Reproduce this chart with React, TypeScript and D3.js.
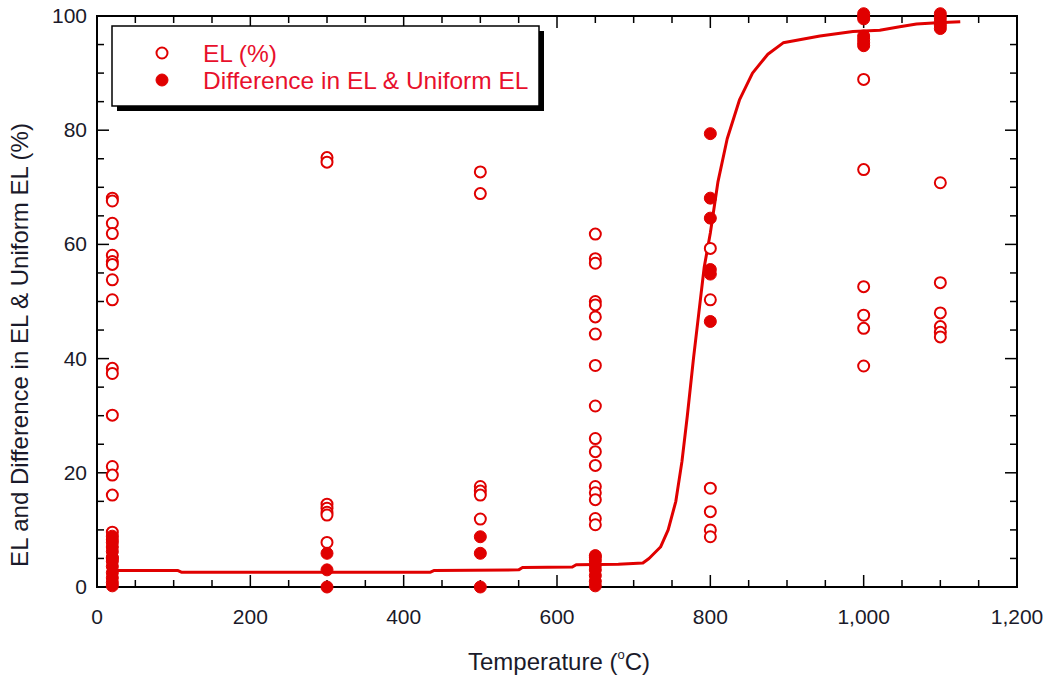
import React from "react";
import * as d3 from "d3";

// ---- Data ----
const temps = [20, 300, 500, 650, 800, 1000, 1100];

const elOpen: number[][] = [
  [68.1, 67.6, 63.7, 61.9, 58.1, 57.0, 56.5, 53.8, 50.3, 38.3, 37.4, 30.1, 21.1, 19.6, 16.1, 9.6, 8.3, 5.0],
  [75.2, 74.4, 14.5, 13.8, 13.1, 12.6, 7.8],
  [72.7, 68.9, 17.6, 16.8, 16.1, 11.9],
  [61.8, 57.5, 56.7, 50.0, 49.4, 47.3, 44.3, 38.8, 31.7, 26.0, 23.7, 21.3, 17.6, 16.5, 15.3, 12.0, 10.9, 5.2],
  [59.3, 50.3, 17.3, 13.2, 10.0, 8.8],
  [88.9, 73.1, 52.6, 47.6, 45.3, 38.7],
  [70.8, 53.3, 48.0, 45.6, 44.6, 43.8],
];

const diffFilled: number[][] = [
  [8.9, 7.8, 7.0, 6.2, 5.2, 4.5, 3.6, 2.5, 1.6, 0.8, 0.2],
  [5.9, 3.0, 0.0],
  [8.8, 5.9, 0.0],
  [5.5, 4.6, 3.8, 3.0, 2.0, 1.0, 0.2],
  [79.4, 68.1, 64.6, 55.6, 54.8, 46.5],
  [100.4, 99.9, 99.5, 96.5, 95.9, 95.3, 94.8],
  [100.4, 99.7, 99.0, 98.4, 97.8],
];

const fitT = [20, 105, 110, 435, 440, 550, 555, 620, 625, 680, 712, 720, 735, 745, 755, 763, 770, 778, 785, 792, 800, 810, 822, 838, 855, 875, 895, 943, 986, 1021, 1047, 1069, 1096, 1126];
const fitV = [2.9, 2.9, 2.6, 2.6, 2.9, 3.0, 3.4, 3.5, 3.9, 4.0, 4.2, 5.0, 7.0, 10.0, 15.0, 22.0, 30.0, 40.0, 48.0, 56.0, 62.0, 71.0, 78.5, 85.3, 90.0, 93.3, 95.3, 96.5, 97.3, 97.5, 98.1, 98.6, 98.8, 99.0];

const xTicks = [0, 200, 400, 600, 800, 1000, 1200];
const yTicks = [0, 20, 40, 60, 80, 100];
const legendLabels = ["EL (%)", "Difference in EL & Uniform EL"];

const W = 1052;
const H = 681;
const left = 97, right = 1017, top = 16, bottom = 587;
const RED = "#e00000";
const TEXTRED = "#e8102c";
const FONT = "Arial, 'Liberation Sans', sans-serif";

export default function App() {
  const x = d3.scaleLinear().domain([0, 1200]).range([left, right]);
  const y = d3.scaleLinear().domain([0, 100]).range([bottom, top]);

  const xMinor = d3.range(0, 1201, 50);
  const yMinor = d3.range(0, 101, 5);

  const line = d3
    .line<number>()
    .x((_, i) => x(fitT[i]))
    .y((v) => y(v));

  const majorLen = 12, minorLen = 7;

  return (
    <svg
      width={W}
      height={H}
      style={{ position: "fixed", left: 0, top: 0, background: "#fff" }}
      fontFamily={FONT}
    >
      <rect x={0} y={0} width={W} height={H} fill="#fff" />
      {/* ticks */}
      <g stroke="#000" strokeWidth={1.5}>
        {xMinor.map((t) => {
          const L = t % 200 === 0 ? majorLen : minorLen;
          return (
            <g key={"xt" + t}>
              <line x1={x(t)} x2={x(t)} y1={bottom} y2={bottom - L} />
              <line x1={x(t)} x2={x(t)} y1={top} y2={top + L} />
            </g>
          );
        })}
        {yMinor.map((t) => {
          const L = t % 20 === 0 ? majorLen : minorLen;
          return (
            <g key={"yt" + t}>
              <line x1={left} x2={left + L} y1={y(t)} y2={y(t)} />
              <line x1={right} x2={right - L} y1={y(t)} y2={y(t)} />
            </g>
          );
        })}
      </g>
      <rect x={left} y={top} width={right - left} height={bottom - top} fill="none" stroke="#000" strokeWidth={2} />

      {/* tick labels */}
      <g fontSize={21} fill="#1a1a2a">
        {xTicks.map((t) => (
          <text key={"xl" + t} x={x(t)} y={bottom + 37} textAnchor="middle">
            {d3.format(",")(t)}
          </text>
        ))}
        {yTicks.map((t) => (
          <text key={"yl" + t} x={left - 10} y={y(t) + 7} textAnchor="end">
            {t}
          </text>
        ))}
      </g>

      {/* axis titles */}
      <text x={559} y={670} textAnchor="middle" fontSize={24} fill="#1a1a2a">
        Temperature (<tspan fontSize={13} dy={-11}>o</tspan>
        <tspan dy={11}>C)</tspan>
      </text>
      <text
        transform={`translate(28, 345) rotate(-90)`}
        textAnchor="middle"
        fontSize={24}
        fill="#1a1a2a"
      >
        EL and Difference in EL &amp; Uniform EL (%)
      </text>

      {/* fitted curve */}
      <path d={line(fitV) || ""} fill="none" stroke={RED} strokeWidth={3} strokeLinejoin="round" />

      {/* open markers */}
      <g fill="#fff" stroke={RED} strokeWidth={2}>
        {temps.map((t, i) =>
          elOpen[i].map((v, j) => <circle key={`o${i}-${j}`} cx={x(t)} cy={y(v)} r={5.5} />)
        )}
      </g>
      {/* filled markers */}
      <g fill={RED} stroke={RED} strokeWidth={1}>
        {temps.map((t, i) =>
          diffFilled[i].map((v, j) => <circle key={`f${i}-${j}`} cx={x(t)} cy={y(v)} r={6} />)
        )}
      </g>

      {/* legend */}
      <rect x={117} y={31} width={427} height={80} fill="#000" />
      <rect x={112} y={26} width={427} height={80} fill="#fff" stroke="#000" strokeWidth={1.5} />
      <circle cx={162} cy={53} r={5.5} fill="#fff" stroke={RED} strokeWidth={2} />
      <circle cx={162} cy={80} r={6} fill={RED} stroke={RED} strokeWidth={1} />
      <g fontSize={24.5} fill={TEXTRED}>
        <text x={203} y={61.5}>{legendLabels[0]}</text>
        <text x={203} y={88.5}>{legendLabels[1]}</text>
      </g>
    </svg>
  );
}
